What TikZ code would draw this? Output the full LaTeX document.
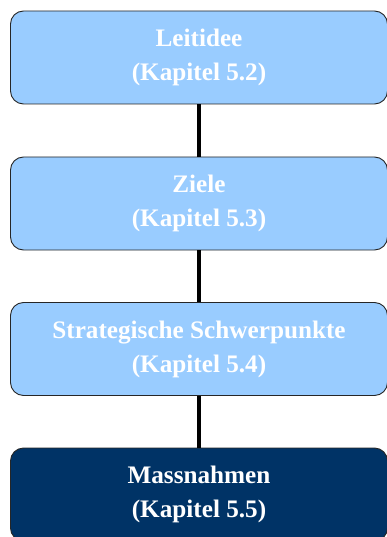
\documentclass[tikz,border=0pt]{standalone}
\usepackage{fontspec}
\setmainfont{Liberation Serif}
\definecolor{lightbox}{HTML}{99CCFF}
\definecolor{darkbox}{HTML}{003366}
\begin{document}
\begin{tikzpicture}[x=1pt,y=-1pt,
  stagebox/.style={draw=black!85, line width=0.9pt, rounded corners=13pt,
    minimum width=377pt, minimum height=93pt, inner sep=0pt, align=center,
    text=white, font=\fontsize{25.2}{34}\selectfont\bfseries},
  lightstage/.style={stagebox, fill=lightbox},
  darkstage/.style={stagebox, fill=darkbox},
  link/.style={line width=3.2pt, black}]
\useasboundingbox (0,0) rectangle (387,537);
\clip (0,0) rectangle (387,537);
\node[lightstage] (b1) at (199,57.5) {Leitidee\\(Kapitel 5.2)};
\node[lightstage] (b2) at (199,203.5) {Ziele\\(Kapitel 5.3)};
\node[lightstage] (b3) at (199,349) {Strategische Schwerpunkte\\(Kapitel 5.4)};
\node[darkstage] (b4) at (199,494.5) {Massnahmen\\(Kapitel 5.5)};
\draw[link] (b1.south) -- (b2.north);
\draw[link] (b2.south) -- (b3.north);
\draw[link] (b3.south) -- (b4.north);
\end{tikzpicture}
\end{document}
